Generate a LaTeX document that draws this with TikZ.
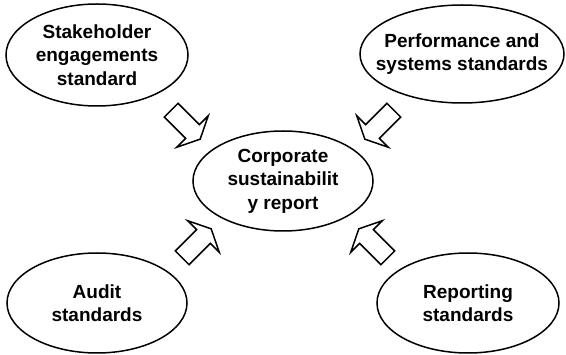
\documentclass[tikz,border=0pt]{standalone}
\usepackage{fontspec}
\setmainfont{Liberation Sans}
\usetikzlibrary{shapes.geometric,shapes.arrows}

\tikzset{
    topic/.style={draw, ellipse, line width=1.5pt, inner sep=0pt},
    words/.style={align=center, inner sep=0pt, font=\bfseries\fontsize{19}{23.5}\selectfont},
    fatarrow/.style={draw, single arrow, line width=1.5pt, inner sep=9pt,
        minimum height=41pt, minimum width=43pt,
        single arrow head extend=12.5pt, single arrow tip angle=128}
}

\begin{document}
\begin{tikzpicture}[x=1pt, y=-1pt]
    \useasboundingbox (0,0) rectangle (566,355);
    % the five ellipses
    \node[topic, minimum width=182pt, minimum height=102pt] (stake) at (97,55) {};
    \node[topic, minimum width=204pt, minimum height=98pt] (perf) at (462,54) {};
    \node[topic, minimum width=180pt, minimum height=100pt] (report) at (283,181) {};
    \node[topic, minimum width=180pt, minimum height=100pt] (audit) at (97,303) {};
    \node[topic, minimum width=182pt, minimum height=100pt] (rep) at (468,303) {};
    % their texts
    \node[words] (stakeT) at (stake) {Stakeholder\\engagements\\standard};
    \node[words] (perfT) at (perf) {Performance and\\systems standards};
    \node[words] (reportT) at (report) {Corporate\\sustainabilit\\y report};
    \node[words] (auditT) at (audit) {Audit\\standards};
    \node[words] (repT) at (rep) {Reporting\\standards};
    % block arrows pointing at the report
    \node[fatarrow, rotate=-45] (fromStake) at (184,123) {};
    \node[fatarrow, rotate=-135] (fromPerf) at (381,123) {};
    \node[fatarrow, rotate=45] (fromAudit) at (195,245) {};
    \node[fatarrow, rotate=135] (fromRep) at (375,245) {};
\end{tikzpicture}
\end{document}
